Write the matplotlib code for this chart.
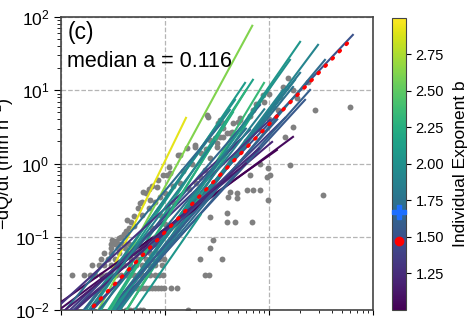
import numpy as np
import matplotlib
matplotlib.use("Agg")
import matplotlib.pyplot as plt
from matplotlib.colors import Normalize
from matplotlib.cm import ScalarMappable

plt.rcParams['font.family'] = ['Liberation Sans', 'DejaVu Sans']
plt.rcParams['mathtext.fontset'] = 'custom'
plt.rcParams['mathtext.rm'] = 'Liberation Sans'
plt.rcParams['mathtext.it'] = 'Liberation Sans:italic'

# recession points (Q, -dQ/dt)
pts_q = [0.37, 0.42, 0.46, 0.5, 0.53, 0.58, 0.62, 1.68,
         0.46, 0.5, 0.54, 0.58, 0.62, 0.66, 0.7, 0.75, 0.8, 0.86, 0.92, 0.97, 1.13, 1.29,
         0.128, 0.165, 0.19, 0.21, 0.24, 0.27, 0.3, 0.34, 0.38, 0.42, 0.46, 0.5, 0.55, 0.6,
         0.66, 0.72, 0.8, 0.88, 0.96, 2.43, 2.67,
         0.2, 0.23, 0.26, 0.3, 0.35, 0.4, 0.46, 0.52, 0.6, 0.7, 0.8, 0.93,
         0.24, 0.28, 0.33, 0.4, 0.47, 0.55, 0.65, 0.75, 0.87, 0.97, 2.17, 3.51,
         0.26, 0.3, 0.36, 0.43, 0.5, 0.6, 0.72, 0.85,
         0.3, 0.35, 0.41, 0.5, 0.6, 0.7, 2.71,
         0.3, 0.33, 0.36, 0.4, 0.45, 0.55, 0.65, 0.8, 2.92,
         0.34, 0.31, 0.36, 0.38, 0.42, 0.4, 0.45, 0.47, 0.43, 0.5, 0.5, 0.55, 0.575, 0.6,
         0.62, 0.65, 0.72, 0.7, 0.75, 0.83, 0.9, 0.85, 0.95, 1.04, 1.04, 1.12, 1.1, 1.33,
         1.39, 1.39, 1.61, 1.94, 1.94, 2.17, 2.43, 2.71, 2.71, 2.71, 2.54, 2.61, 3.14, 3.14,
         3.24, 3.38, 3.38, 3.61, 3.64, 3.64, 3.92, 3.92, 3.92, 4.06, 4.2, 4.2, 4.37, 4.54,
         4.71, 4.89, 4.9, 5.03, 5.26, 5.26, 6.1, 6.56, 6.8, 7.06, 7.06, 8.2, 8.2, 8.75,
         9.5, 9.86, 9.86, 10.2, 12.3, 12.8, 13.6, 14.3, 15.3, 15.9, 17.1, 17.1, 18.5, 23.9,
         27.7, 33.3, 60.0,
         0.6, 0.7, 0.8, 1.0, 1.2, 1.5, 1.8, 2.2, 2.5, 3.0, 0.9, 1.2, 0.75, 1.0, 1.7, 2.0,
         5.5, 6.5, 7.5, 9.0, 10.0, 11.0, 6.0, 8.0, 10.0]
pts_y = [0.01] * 8 + [0.02] * 14 + [0.03] * 21 + [0.041] * 12 + [0.05] * 12 + \
        [0.06] * 8 + [0.07] * 7 + [0.08] * 8 + [0.09] + \
        [0.088, 0.09, 0.095, 0.1, 0.12, 0.11, 0.13, 0.16, 0.17, 0.19, 0.14, 0.25, 0.286, 0.3,
         0.414, 0.39, 0.318, 0.45, 0.5, 0.484, 0.353, 0.6, 0.7, 0.7, 0.258, 0.736, 0.9, 1.31,
         1.31, 0.537, 1.62, 1.7, 1.8, 0.66, 0.82, 1.18, 2.1, 0.188, 4.6, 4.37, 1.7, 1.89,
         3.59, 2.33, 3.95, 3.06, 2.33, 3.55, 0.21, 2.59, 0.161, 0.353, 0.407, 2.6, 2.73, 3.55,
         0.161, 0.336, 0.39, 3.7, 3.95, 4.15, 0.435, 0.7, 0.161, 0.436, 5.4, 0.435, 1.0, 8.65,
         0.66, 0.318, 0.86, 0.7, 5.4, 8.2, 11.1, 2.33, 14.6, 0.957, 3.19, 10.1, 7.8, 13.1,
         5.4, 0.372, 6.0,
         0.2, 0.25, 0.3, 0.4, 0.5, 0.8, 1.0, 1.4, 1.6, 2.2, 0.2, 0.3, 0.13, 0.15, 0.45, 0.55,
         3.0, 4.5, 6.5, 7.0, 9.0, 6.0, 2.0, 3.0, 4.0]

# individual fits: exponent b, first Q, last Q, -dQ/dt at last Q
line_b = [2.92, 2.62, 2.05, 1.9, 1.5, 2.2, 2.35, 2.15, 2.1, 1.8, 1.85, 1.75, 1.9, 1.05,
          1.0, 1.2, 1.35, 2.0, 1.95, 1.7, 1.65, 1.45, 1.3, 1.4, 1.55, 1.6, 1.7, 2.0,
          2.05, 2.0, 1.85, 1.6, 1.75, 2.3, 2.25, 1.15, 1.25, 1.9]
line_q0 = [0.1] * 28 + [0.5, 0.3] + [0.1] * 8
line_q1 = [1.59, 6.9, 19.9, 29.6, 64.0, 10.9, 8.95, 7.0, 5.88, 19.9, 17.8, 17.0, 13.6, 17.0,
           11.9, 10.7, 10.2, 4.71, 4.2, 3.38, 8.2, 6.56, 5.26, 14.3, 22.2, 24.8, 34.5, 15.9,
           2.2, 4.0, 9.0, 12.0, 6.0, 6.0, 4.5, 6.0, 8.0, 3.0]
line_y1 = [4.2, 76, 45.8, 41.7, 57, 12.6, 12.6, 13.9, 12.6, 17.3, 13.9, 11.1, 10.1, 2.31,
           1.53, 1.97, 3.95, 7.4, 5.4, 3.37, 6.3, 2.88, 2.1, 4.2, 7.4, 10.1, 26, 26,
           0.2, 1.5, 5.5, 4.0, 3.0, 10, 5.0, 1.0, 1.6, 2.0]

median_a = 0.116
fit_b = 1.47
median_b = 1.67

fig = plt.figure(figsize=(4.77, 3.27), dpi=100)
ax = fig.add_axes([0.128, 0.052, 0.654, 0.896])
cax = fig.add_axes([0.822, 0.052, 0.029, 0.893])

cmap = plt.cm.viridis
norm = Normalize(vmin=1.0, vmax=3.0)

ax.scatter(pts_q, pts_y, s=18, color='#808080', zorder=2, linewidths=0)

for b, q0, q1, y1 in zip(line_b, line_q0, line_q1, line_y1):
    q = np.array([q0, q1])
    ax.plot(q, y1 * (q / q1) ** b, color=cmap(norm(b)), lw=1.5, zorder=3)

# median fit, red dotted
qf = np.array([0.15, 62.0])
ax.plot(qf, median_a * qf ** fit_b, color='red', lw=2.6, ls=(0, (0.4, 2.4)),
        dash_capstyle='round', zorder=4)

ax.set_xscale('log')
ax.set_yscale('log')
ax.set_xlim(0.1, 100)
ax.set_ylim(0.01, 100)
ax.set_axisbelow(True)
ax.grid(True, which='major', ls='--', color='#b5b5b5', lw=0.9)
ax.tick_params(axis='x', which='both', labelbottom=False, direction='out')
ax.tick_params(axis='y', which='major', labelsize=12.5, length=5)
ax.tick_params(axis='y', which='minor', length=3)
for sp in ax.spines.values():
    sp.set_color('#444444')
    sp.set_linewidth(1.2)

ax.text(0.02, 0.985, '(c)', transform=ax.transAxes, fontsize=16.5, va='top', ha='left')
ax.text(0.02, 0.885, 'median a = %.3f' % median_a, transform=ax.transAxes,
        fontsize=15.5, va='top', ha='left')
ax.set_ylabel('−dQ/dt (mm h$^{-2}$)', fontsize=13)
ax.yaxis.set_label_coords(-0.145, 0.5)

cb = fig.colorbar(ScalarMappable(norm=norm, cmap=cmap), cax=cax)
cb.set_ticks([1.25, 1.5, 1.75, 2.0, 2.25, 2.5, 2.75])
cb.ax.tick_params(labelsize=10.5)
cb.outline.set_edgecolor('#444444')
cb.set_label('Individual Exponent b', fontsize=12.5, labelpad=6)
cax.plot(0.5, median_b, 'P', color='#1e6fff', ms=10, clip_on=False, zorder=5)
cax.plot(0.5, fit_b, 'o', color='red', ms=6, clip_on=False, zorder=5)

fig.savefig('out.png', dpi=100)
